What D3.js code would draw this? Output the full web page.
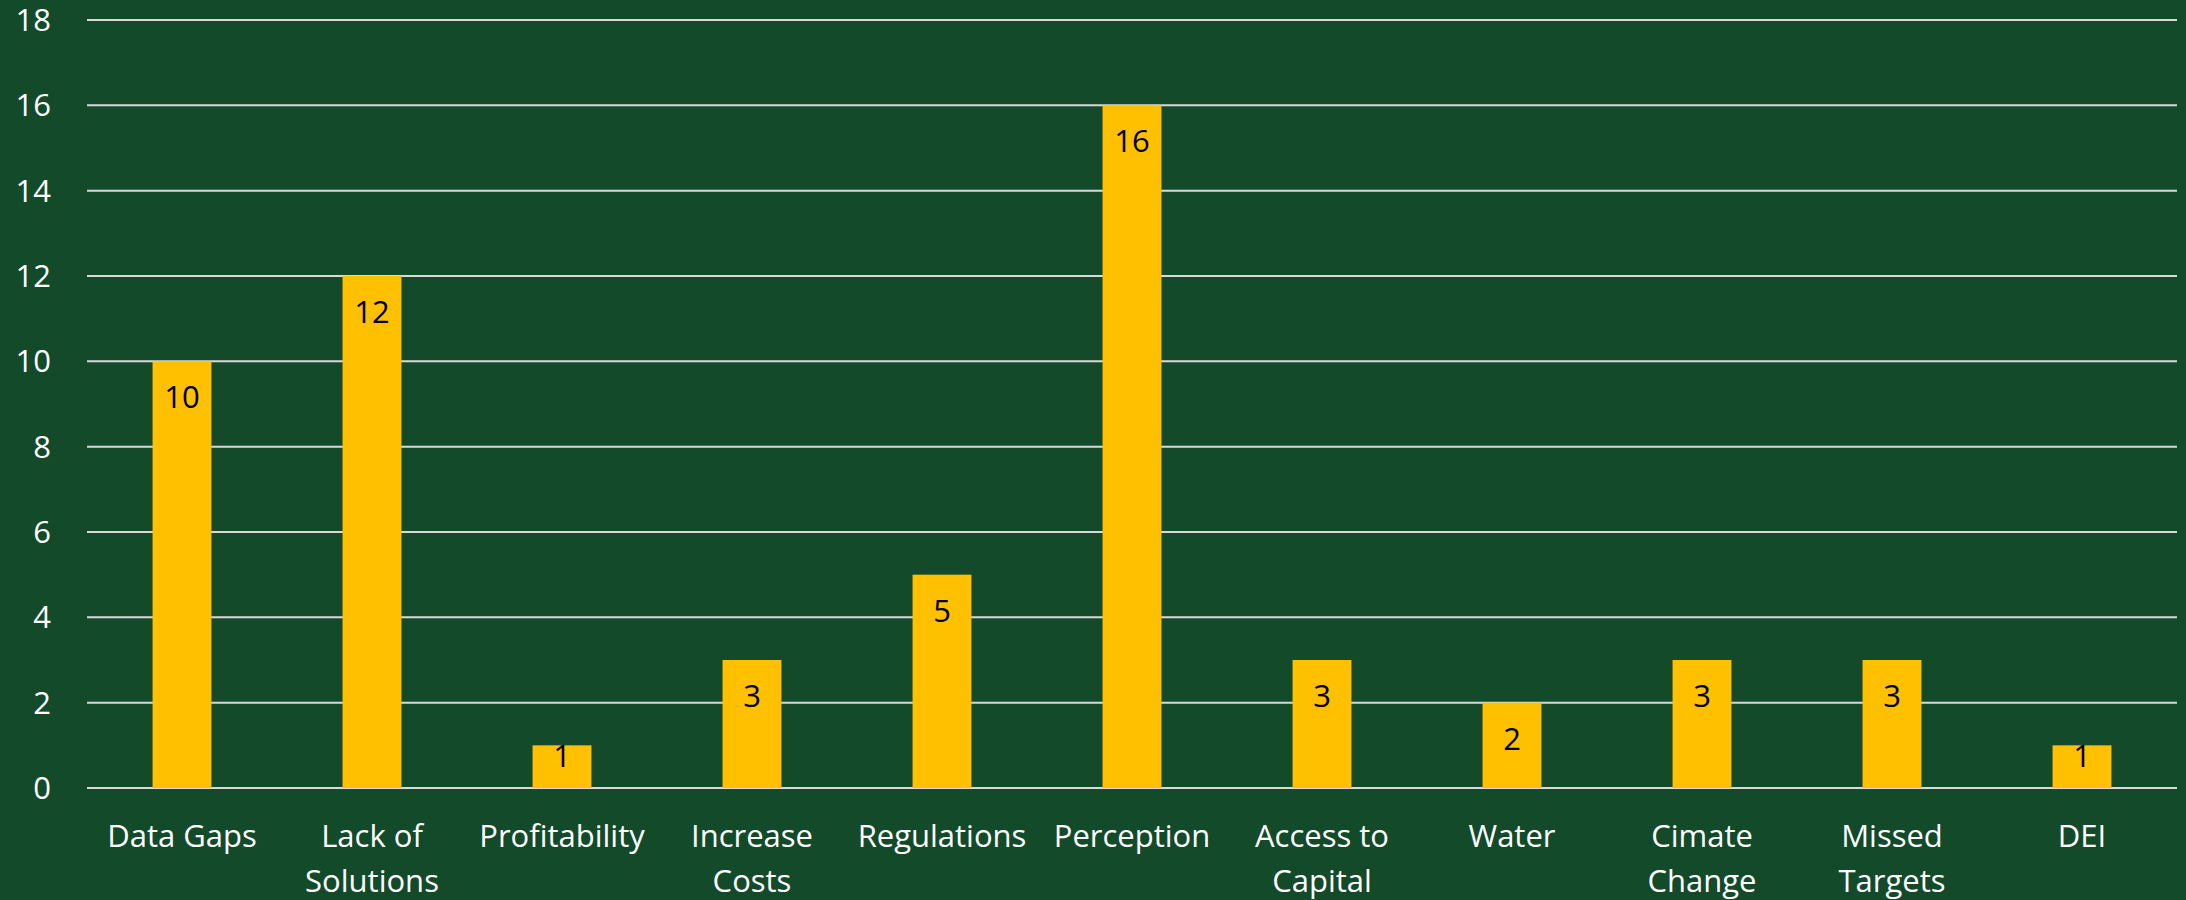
<!DOCTYPE html>
<html>
<head>
<meta charset="utf-8">
<script src="https://cdn.jsdelivr.net/npm/d3@7"></script>
<style>
  html, body { margin: 0; padding: 0; background: #134a29; }
  svg { display: block; }
  text { font-family: "Open Sans", "Liberation Sans", sans-serif; }
</style>
</head>
<body>
<svg id="chart" width="2186" height="900"></svg>
<script>
const categories = ["Data Gaps", "Lack of Solutions", "Profitability", "Increase Costs",
  "Regulations", "Perception", "Access to Capital", "Water", "Cimate Change",
  "Missed Targets", "DEI"];
const counts = [10, 12, 1, 3, 5, 16, 3, 2, 3, 3, 1];
const yTicks = [0, 2, 4, 6, 8, 10, 12, 14, 16, 18];

const W = 2186, H = 900;
const margin = { left: 87, right: 9, top: 20, bottom: 112 };
const svg = d3.select("#chart");

const x = d3.scaleBand()
  .domain(categories)
  .range([margin.left, W - margin.right])
  .paddingInner(0.69)
  .paddingOuter(0.345);

const y = d3.scaleLinear()
  .domain([0, 18])
  .range([H - margin.bottom, margin.top]);

// horizontal gridlines
svg.append("g")
  .selectAll("line")
  .data(yTicks)
  .join("line")
  .attr("x1", margin.left)
  .attr("x2", W - margin.right)
  .attr("y1", d => y(d))
  .attr("y2", d => y(d))
  .attr("stroke", "#d9d9d9")
  .attr("stroke-width", 2);

// y axis labels
const yAxis = d3.axisLeft(y).tickValues(yTicks).tickSize(0).tickPadding(36);
const yg = svg.append("g").attr("transform", `translate(${margin.left},0)`).call(yAxis);
yg.select(".domain").remove();
yg.selectAll("text")
  .attr("fill", "#ffffff")
  .style("font-size", "31px")
  .attr("dy", "0.34em");

// bars
svg.append("g")
  .selectAll("rect")
  .data(categories)
  .join("rect")
  .attr("x", d => x(d))
  .attr("width", x.bandwidth())
  .attr("y", (d, i) => y(counts[i]))
  .attr("height", (d, i) => y(0) - y(counts[i]))
  .attr("fill", "#ffc000");

// value labels inside bar tops
svg.append("g")
  .selectAll("text")
  .data(categories)
  .join("text")
  .attr("x", d => x(d) + x.bandwidth() / 2)
  .attr("y", (d, i) => Math.min(y(counts[i]) + 47, y(0) - 21))
  .attr("text-anchor", "middle")
  .attr("fill", "#000000")
  .style("font-size", "31px")
  .text((d, i) => counts[i]);

// category labels, wrapped to the band width
const xAxis = d3.axisBottom(x).tickSize(0).tickPadding(0);
const xg = svg.append("g").attr("transform", `translate(0,${y(0)})`).call(xAxis);
xg.select(".domain").remove();
xg.selectAll("text")
  .attr("fill", "#ffffff")
  .style("font-size", "31px")
  .attr("y", 0)
  .attr("dy", 0)
  .each(function(d) {
    const t = d3.select(this);
    const words = d.split(" ");
    const maxW = x.step();
    t.text(null);
    let line = [];
    let lines = [];
    const probe = t.append("tspan");
    words.forEach(w => {
      const trial = line.concat([w]).join(" ");
      probe.text(trial);
      if (probe.node().getComputedTextLength() > maxW && line.length) {
        lines.push(line.join(" "));
        line = [w];
      } else {
        line.push(w);
      }
    });
    lines.push(line.join(" "));
    probe.remove();
    lines.forEach((l, i) => {
      t.append("tspan")
        .attr("x", 0)
        .attr("y", 59 + i * 45)
        .text(l);
    });
  });
</script>
</body>
</html>
